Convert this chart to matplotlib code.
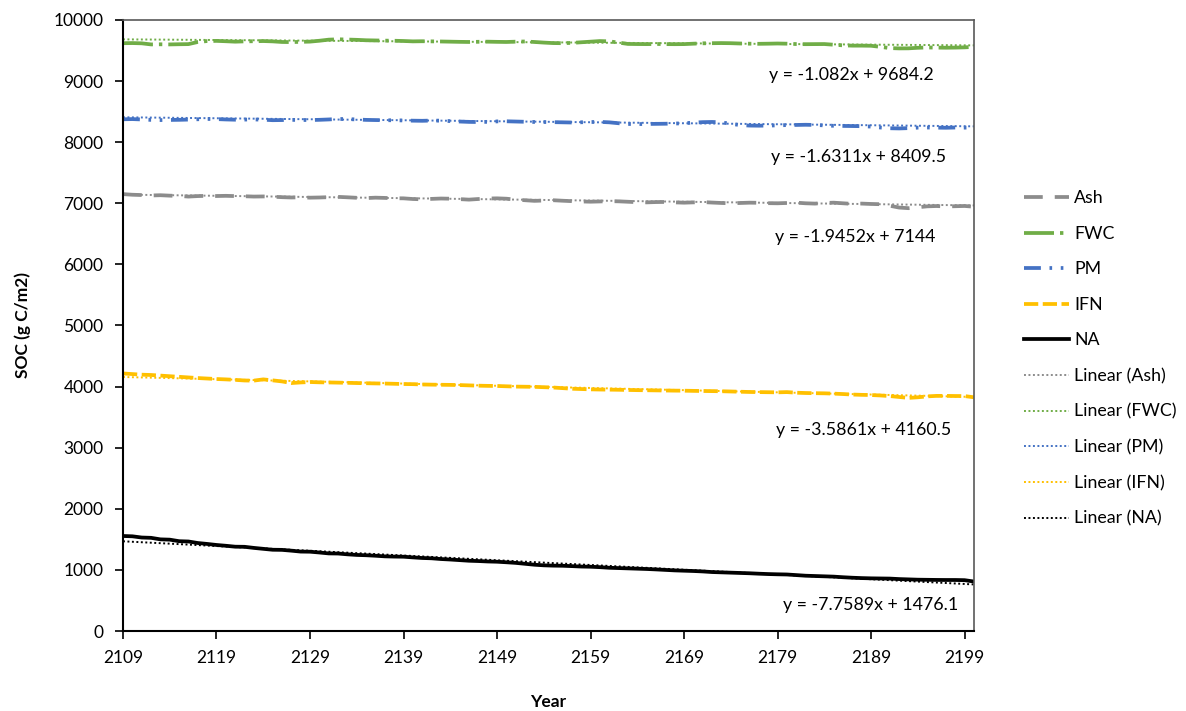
import numpy as np
import matplotlib
matplotlib.use("Agg")
import matplotlib.pyplot as plt

plt.rcParams['font.family'] = ['Lato', 'DejaVu Sans']

years = np.arange(2109, 2201)

# SOC (g C/m2), one value per year
ash = [7150, 7140, 7135, 7128, 7132, 7125, 7120, 7110, 7118, 7122,
       7119, 7122, 7118, 7115, 7110, 7112, 7108, 7100, 7095, 7098,
       7092, 7095, 7100, 7105, 7098, 7090, 7085, 7092, 7088, 7082,
       7081, 7070, 7065, 7072, 7078, 7075, 7068, 7060, 7070, 7078,
       7081, 7075, 7060, 7050, 7040, 7045, 7050, 7042, 7035, 7030,
       7026, 7030, 7035, 7032, 7025, 7018, 7015, 7020, 7022, 7015,
       7010, 7015, 7020, 7012, 7005, 7000, 7005, 7010, 7008, 7002,
       7000, 7005, 7010, 7000, 6995, 7005, 7010, 7000, 6990, 6995,
       6989, 6985, 6960, 6930, 6920, 6935, 6950, 6955, 6948, 6952,
       6956, 6944]

fwc = [9620, 9622, 9618, 9600, 9602, 9600, 9603, 9605, 9640, 9655,
       9658, 9652, 9645, 9650, 9652, 9655, 9650, 9640, 9638, 9642,
       9646, 9660, 9678, 9684, 9680, 9675, 9668, 9665, 9662, 9660,
       9656, 9650, 9652, 9650, 9648, 9645, 9642, 9640, 9643, 9645,
       9642, 9640, 9645, 9648, 9640, 9630, 9622, 9620, 9625, 9635,
       9645, 9655, 9650, 9630, 9608, 9606, 9605, 9607, 9605, 9604,
       9605, 9612, 9618, 9620, 9622, 9620, 9615, 9612, 9610, 9612,
       9615, 9612, 9606, 9604, 9605, 9606, 9595, 9585, 9580, 9580,
       9578, 9560, 9540, 9535, 9536, 9545, 9550, 9548, 9546, 9548,
       9552, 9560]

pm = [8375, 8378, 8372, 8365, 8362, 8364, 8366, 8370, 8375, 8380,
      8378, 8372, 8368, 8370, 8372, 8368, 8360, 8362, 8365, 8364,
      8362, 8366, 8372, 8380, 8378, 8372, 8365, 8362, 8360, 8358,
      8356, 8352, 8350, 8354, 8352, 8345, 8338, 8332, 8330, 8333,
      8340, 8342, 8338, 8334, 8331, 8330, 8328, 8325, 8322, 8326,
      8330, 8332, 8325, 8310, 8298, 8296, 8298, 8300, 8302, 8305,
      8310, 8320, 8328, 8331, 8325, 8300, 8280, 8272, 8270, 8272,
      8275, 8280, 8282, 8285, 8282, 8275, 8268, 8266, 8264, 8262,
      8255, 8240, 8228, 8225, 8230, 8238, 8240, 8238, 8236, 8240,
      8238, 8240]

ifn = [4215, 4205, 4195, 4190, 4180, 4170, 4160, 4150, 4140, 4132,
       4124, 4118, 4110, 4100, 4098, 4118, 4102, 4085, 4058, 4068,
       4075, 4070, 4068, 4065, 4062, 4058, 4055, 4052, 4050, 4046,
       4042, 4040, 4035, 4032, 4030, 4028, 4025, 4020, 4015, 4012,
       4010, 4005, 4000, 3998, 3996, 3990, 3985, 3975, 3965, 3960,
       3955, 3952, 3950, 3948, 3945, 3942, 3940, 3938, 3936, 3934,
       3933, 3930, 3928, 3926, 3924, 3920, 3916, 3912, 3910, 3908,
       3906, 3910, 3900, 3895, 3892, 3890, 3885, 3878, 3870, 3865,
       3862, 3855, 3845, 3830, 3815, 3825, 3840, 3848, 3848, 3846,
       3845, 3825]

na = [1555, 1550, 1530, 1525, 1500, 1495, 1470, 1465, 1440, 1425,
      1408, 1395, 1380, 1378, 1360, 1345, 1330, 1328, 1315, 1300,
      1298, 1285, 1270, 1268, 1255, 1245, 1240, 1232, 1222, 1218,
      1216, 1205, 1195, 1190, 1178, 1170, 1160, 1150, 1145, 1138,
      1134, 1125, 1115, 1100, 1085, 1075, 1070, 1068, 1062, 1055,
      1052, 1045, 1035, 1030, 1025, 1020, 1015, 1008, 1000, 992,
      987, 982, 975, 965, 960, 955, 950, 945, 938, 932,
      928, 925, 915, 905, 900, 895, 890, 880, 872, 866,
      862, 860, 858, 850, 845, 840, 838, 836, 835, 835,
      832, 810]

names = ['Ash', 'FWC', 'PM', 'IFN', 'NA']
# Excel trendline coefficients (x = point index starting at 1)
slopes = [-1.9452, -1.082, -1.6311, -3.5861, -7.7589]
intercepts = [7144, 9684.2, 8409.5, 4160.5, 1476.1]
equations = ['y = -1.9452x + 7144', 'y = -1.082x + 9684.2', 'y = -1.6311x + 8409.5',
             'y = -3.5861x + 4160.5', 'y = -7.7589x + 1476.1']

colors = ['#8c8c8c', '#70AD47', '#4472C4', '#FFC000', '#000000']
dashes = [(5, 3.2), (8, 1.6, 0.9, 1.6), (4.5, 2.3, 0.7, 2.3, 0.7, 2.3), (3.8, 1.2), None]
eq_pos = [(2187.3, 6448), (2186.9, 9100), (2187.7, 7758), (2188.2, 3290), (2188.9, 425)]

fig = plt.figure(figsize=(11.86, 7.11), dpi=100)
ax = fig.add_axes([0.1037, 0.1125, 0.7175, 0.8594])

series = [ash, fwc, pm, ifn, na]
handles = []
for vals, name, c, d in zip(series, names, colors, dashes):
    line, = ax.plot(years, vals, color=c, lw=2.7, label=name)
    if d is not None:
        line.set_dashes(d)
        line.set_dash_capstyle('butt')
    handles.append(line)

idx = np.arange(1, len(years) + 1)
for name, c, m, b in zip(names, colors, slopes, intercepts):
    tl, = ax.plot(years, m * idx + b, color=c, lw=1.4, linestyle=(0, (1, 1.3)),
                  label=f'Linear ({name})')
    handles.append(tl)

for (x, y), eq in zip(eq_pos, equations):
    ax.text(x, y, eq, ha='center', va='center', fontsize=12.8)

ax.set_xlim(2109, 2200)
ax.set_ylim(0, 10000)
ax.set_xticks(np.arange(2109, 2200, 10))
ax.set_yticks(np.arange(0, 10001, 1000))
ax.tick_params(axis='both', labelsize=12.5, length=6, width=1.2, direction='out')
ax.tick_params(axis='x', pad=8)
ax.tick_params(axis='y', pad=8)
for s in ['left', 'bottom']:
    ax.spines[s].set_color('black')
    ax.spines[s].set_linewidth(1.5)
for s in ['top', 'right']:
    ax.spines[s].set_color('#595959')
    ax.spines[s].set_linewidth(1.2)

ax.set_ylabel('SOC (g C/m2)', fontsize=12.5, fontweight='bold', labelpad=16)
ax.set_xlabel('Year', fontsize=12.5, fontweight='bold', labelpad=20)

fig.legend(handles=handles, loc='upper left', bbox_to_anchor=(0.850, 0.755),
           frameon=False, fontsize=12.8, handlelength=2.5, labelspacing=1.1,
           handletextpad=0.3)

fig.savefig('out.png', dpi=100)
